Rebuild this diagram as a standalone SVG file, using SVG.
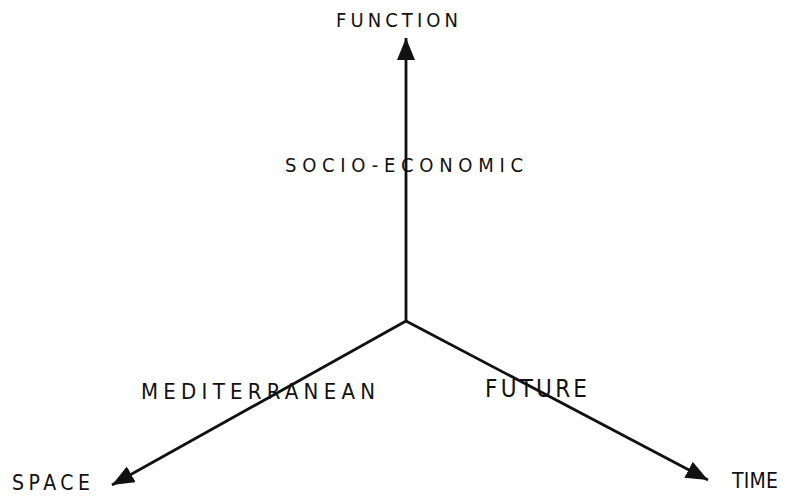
<svg xmlns="http://www.w3.org/2000/svg" width="788" height="496" viewBox="0 0 788 496">
<style>
.lbl{font-family:"DejaVu Sans","Liberation Sans",Arial,sans-serif;font-stretch:condensed;font-weight:normal;fill:#111}
.ax{stroke:#111;stroke-width:2.8;fill:none}
</style>
<defs>
<marker id="ah" markerUnits="userSpaceOnUse" markerWidth="24" markerHeight="20" refX="22" refY="9" orient="auto">
<path d="M0,0 L22,9 L0,18 Z" fill="#111"/>
</marker>
</defs>
<rect width="788" height="496" fill="#fff"/>
<g id="connectors">
<line class="ax" x1="406" y1="321" x2="406" y2="38" marker-end="url(#ah)"/>
<line class="ax" x1="406" y1="321" x2="112" y2="485" marker-end="url(#ah)"/>
<line class="ax" x1="406" y1="321" x2="708" y2="480" marker-end="url(#ah)"/>
</g>
<g id="function"><text class="lbl" x="336" y="27" font-size="20" textLength="122" lengthAdjust="spacing">FUNCTION</text></g>
<g id="socio"><text class="lbl" x="285" y="172" font-size="20" textLength="238" lengthAdjust="spacing">SOCIO-ECONOMIC</text></g>
<g id="mediterranean"><text class="lbl" x="141" y="399" font-size="22" textLength="234" lengthAdjust="spacing">MEDITERRANEAN</text></g>
<g id="future"><text class="lbl" x="485" y="397" font-size="24" textLength="102" lengthAdjust="spacing">FUTURE</text></g>
<g id="space"><text class="lbl" x="12" y="490" font-size="21" textLength="78" lengthAdjust="spacing">SPACE</text></g>
<g id="time"><text class="lbl" x="732" y="488" font-size="21" textLength="46" lengthAdjust="spacing">TIME</text></g>
</svg>
